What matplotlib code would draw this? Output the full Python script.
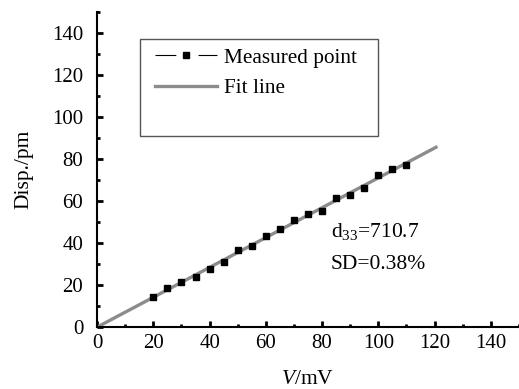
import matplotlib.pyplot as plt
from matplotlib.lines import Line2D
from matplotlib.patches import Rectangle
from matplotlib.ticker import MultipleLocator

plt.rcParams['font.family'] = ['Liberation Serif', 'DejaVu Serif']
plt.rcParams['mathtext.fontset'] = 'custom'
plt.rcParams['mathtext.rm'] = 'Liberation Serif'
plt.rcParams['mathtext.it'] = 'Liberation Serif:italic'
plt.rcParams['lines.scale_dashes'] = False

# measured displacement vs drive voltage
voltage = [20, 25, 30, 35, 40, 45, 50, 55, 60, 65, 70, 75, 80, 85, 90, 95, 100, 105, 110]
disp = [14.3, 18.5, 21.7, 24.0, 27.6, 30.9, 36.5, 38.4, 43.5, 46.7, 50.8, 53.8,
        55.3, 61.5, 63.1, 66.3, 72.3, 75.3, 77.1]

# linear fit end points
fit_v = [0, 121]
fit_d = [0, 86.0]

fig = plt.figure(figsize=(5.19, 3.89), dpi=100)
ax = fig.add_axes([0.187, 0.159, 0.813, 0.81])

ax.plot(fit_v, fit_d, color='#8c8c8c', lw=2.4, solid_capstyle='butt', zorder=2)
ax.plot(voltage, disp, ls='none', marker='s', ms=5, color='black', zorder=3)

ax.set_xlim(0, 150)
ax.set_ylim(0, 150)
ax.xaxis.set_minor_locator(MultipleLocator(10))
ax.yaxis.set_minor_locator(MultipleLocator(10))
ax.set_xticks(range(0, 141, 20))
ax.set_yticks(range(0, 141, 20))
ax.tick_params(which='major', direction='in', length=4, width=2, labelsize=15)
ax.tick_params(axis='x', which='major', pad=5)
ax.tick_params(axis='y', which='major', pad=10)
ax.tick_params(which='minor', direction='in', length=2, width=2)
for s in ['top', 'right']:
    ax.spines[s].set_visible(False)
for s in ['left', 'bottom']:
    ax.spines[s].set_linewidth(1.5)

ax.set_xlabel('$\\it{V}$/mV', fontsize=15.5, labelpad=12)
ax.set_ylabel('Disp./pm', fontsize=15.5, labelpad=13)

ax.text(83, 45.4, 'd$_{33}$=710.7', fontsize=15.5, va='center')
ax.text(83, 29.6, 'SD=0.38%', fontsize=15.5, va='center')

# legend box
ax.add_patch(Rectangle((15.3, 90.8), 84.6, 46.2, fill=False, ec='#555555', lw=1, zorder=4))
handles = [
    Line2D([], [], color='black', lw=0.8, ls=(0, (15, 16)), marker='s', ms=5),
    Line2D([], [], color='#8c8c8c', lw=2.4),
]
ax.legend(handles, ['Measured point', 'Fit line'], loc='upper left',
          bbox_to_anchor=(0.113, 0.92), frameon=False, fontsize=15.3,
          handlelength=2.9, handletextpad=0.35, labelspacing=0.5, borderpad=0)

fig.savefig('out.png', dpi=100)
